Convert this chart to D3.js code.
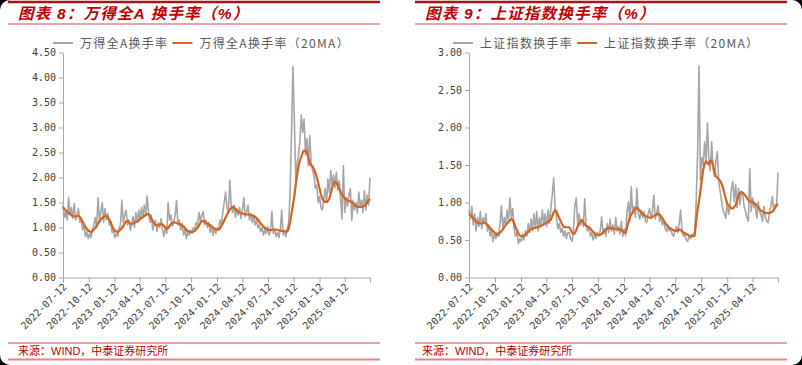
<!DOCTYPE html>
<html><head><meta charset="utf-8">
<script src="https://cdn.jsdelivr.net/npm/d3@7"></script>
<style>html,body{margin:0;padding:0;background:#000;} svg{display:block}</style>
</head><body><svg id="c" width="802" height="365"></svg>
<script>
// ---------- data ----------
const startDate = "2022-07-12";
const stepDays = 5;
const endDate = "2025-07-11";
const xTickLabels = ["2022-07-12","2022-10-12","2023-01-12","2023-04-12","2023-07-12","2023-10-12","2024-01-12","2024-04-12","2024-07-12","2024-10-12","2025-01-12","2025-04-12"];
const leftYTicks = [0,0.5,1,1.5,2,2.5,3,3.5,4,4.5];
const rightYTicks = [0,0.5,1,1.5,2,2.5,3];

const titles = ["图表 8：万得全A 换手率（%）", "图表 9：上证指数换手率（%）"];
const rawNames = ["万得全A换手率", "上证指数换手率"];
const maNames = ["万得全A换手率（20MA）", "上证指数换手率（20MA）"];
const sourceText = "来源：WIND，中泰证券研究所";

const leftRaw = [1.45,1.20,1.30,1.15,1.60,1.25,1.40,1.18,1.48,1.15,1.25,1.38,
1.10,1.15,0.95,1.05,0.82,0.92,0.78,0.88,0.80,
0.95,1.05,1.20,1.00,1.60,1.15,1.30,1.50,1.10,1.38,
1.15,1.28,1.05,1.12,0.90,0.95,0.80,0.88,0.82,0.98,
1.05,1.55,1.10,1.25,1.35,1.05,1.15,0.95,1.08,1.22,
1.00,1.30,1.10,1.35,1.15,1.40,1.20,1.45,1.25,1.63,1.30,
1.10,1.25,0.95,1.05,1.15,0.92,1.10,1.00,1.18,
0.95,0.82,1.00,0.88,1.50,1.15,1.25,1.02,1.10,1.25,
1.54,1.05,1.15,0.95,1.08,0.85,0.98,0.78,0.90,0.85,
0.95,0.88,1.00,0.95,1.10,1.05,1.30,1.12,1.25,1.32,
1.05,1.15,1.00,1.10,0.90,1.05,0.84,0.98,0.88,1.00,
0.95,1.15,1.05,1.30,1.50,1.71,1.40,1.30,1.94,1.45,
1.30,1.45,1.20,1.38,1.25,1.40,1.18,1.35,1.60,1.22,
1.30,1.45,1.15,1.28,1.10,1.25,1.05,1.15,1.00,1.05,
0.92,1.00,0.85,0.95,0.88,1.02,0.85,0.92,1.32,0.88,
0.95,0.82,0.90,0.80,0.96,1.35,0.85,0.92,0.82,0.98,
1.10,1.70,2.90,4.22,3.20,
1.95,2.30,2.45,2.75,3.25,2.90,3.17,2.45,2.78,2.24,2.84,2.30,2.15,2.04,1.78,1.85,1.50,1.62,1.40,1.35,
1.55,1.78,1.50,1.97,1.70,2.14,1.85,2.05,1.80,2.11,1.75,1.94,1.60,1.17,2.24,1.30,1.60,1.43,1.65,1.78,
1.14,1.55,1.35,1.50,1.29,1.71,1.40,1.55,1.30,1.74,1.35,1.65,1.45,1.99];

const leftMA = [1.41,1.37,1.34,1.31,1.29,1.27,1.25,1.23,1.22,1.22,
1.23,1.23,1.21,1.17,1.12,1.06,1.01,0.97,0.94,0.92,
0.91,0.93,0.96,0.99,1.03,1.08,1.12,1.16,1.19,1.21,
1.23,1.23,1.20,1.16,1.10,1.03,0.97,0.94,0.92,0.91,
0.93,0.96,0.99,1.03,1.08,1.12,1.13,1.11,1.08,1.07,
1.08,1.10,1.11,1.12,1.14,1.17,1.19,1.21,1.23,1.25,
1.27,1.27,1.23,1.18,1.13,1.08,1.05,1.04,1.05,1.06,
1.07,1.06,1.03,1.00,0.97,0.99,1.03,1.07,1.09,1.10,
1.10,1.09,1.08,1.07,1.06,1.04,1.02,0.99,0.95,0.93,
0.92,0.91,0.91,0.92,0.93,0.96,1.00,1.04,1.09,1.13,
1.13,1.11,1.09,1.08,1.06,1.04,1.02,1.00,0.98,0.96,
0.96,0.96,0.98,1.03,1.08,1.14,1.20,1.26,1.31,1.36,
1.39,1.41,1.40,1.37,1.34,1.32,1.30,1.29,1.28,1.27,
1.26,1.26,1.26,1.26,1.25,1.24,1.23,1.21,1.19,1.16,
1.12,1.08,1.05,1.02,0.99,0.97,0.96,0.95,0.95,0.95,
0.96,0.96,0.96,0.95,0.94,0.94,0.93,0.93,0.92,0.92,
0.92,0.98,1.10,1.28,1.45,1.62,1.85,2.05,2.22,2.34,
2.42,2.50,2.54,2.53,2.50,2.40,2.28,2.24,2.22,2.17,
2.10,2.00,1.90,1.78,1.66,1.58,1.53,1.51,1.51,1.53,
1.58,1.68,1.80,1.88,1.91,1.89,1.85,1.78,1.71,1.66,
1.62,1.59,1.56,1.54,1.53,1.52,1.51,1.48,1.45,1.43,
1.42,1.41,1.41,1.41,1.42,1.43,1.46,1.50,1.54,1.57];

const rightRaw = [0.90,0.78,0.95,0.70,0.85,0.62,0.80,0.68,0.88,
0.65,0.80,0.72,0.85,0.62,0.70,0.55,0.65,0.48,0.58,0.52,
0.60,0.55,0.72,0.96,0.65,0.80,0.70,0.90,0.75,1.06,
0.80,0.92,0.65,0.55,0.60,0.45,0.52,0.48,0.58,0.50,0.62,
0.55,0.72,0.60,0.78,0.62,0.85,0.65,0.88,0.62,0.80,
0.68,0.90,0.70,0.85,0.68,0.90,0.72,0.92,1.10,1.33,0.95,
0.80,0.65,0.72,0.60,0.66,0.55,0.62,0.52,0.60,
0.60,0.52,0.48,0.62,0.95,1.06,0.72,0.85,0.70,0.78,0.68,1.05,0.70,0.62,0.68,0.55,0.60,0.50,0.58,0.52,
0.60,0.55,0.62,0.81,0.58,0.65,0.55,0.72,0.60,0.78,
0.62,0.70,0.58,0.80,0.62,0.68,0.58,0.75,0.55,0.65,0.56,
0.88,1.01,0.75,1.21,0.85,0.95,0.80,1.19,0.85,0.78,0.90,0.80,0.88,0.75,0.73,0.85,0.92,0.78,0.88,1.10,
0.78,0.85,0.96,0.75,0.82,0.70,0.76,0.65,0.61,0.70,0.62,0.66,0.58,0.55,0.62,0.68,0.60,0.72,0.90,0.60,
0.55,0.58,0.50,0.48,0.55,0.52,0.58,0.55,0.62,
1.01,1.65,2.82,1.30,1.60,1.50,
1.81,1.55,2.06,1.55,1.42,1.81,1.45,1.35,1.55,1.68,1.28,1.15,1.02,0.90,0.85,0.79,1.01,0.84,0.95,1.19,
1.28,1.01,1.24,0.93,1.19,0.97,1.15,1.10,0.95,0.88,0.80,0.75,1.45,0.88,1.06,0.93,0.97,0.79,1.01,0.88,
0.84,0.75,0.95,0.80,0.75,0.73,0.88,0.95,1.08,0.88,0.97,0.95,1.40];

const rightMA = [0.85,0.83,0.81,0.79,0.77,0.75,0.73,0.72,0.72,0.72,
0.73,0.73,0.72,0.70,0.68,0.66,0.64,0.62,0.60,0.58,
0.57,0.58,0.60,0.62,0.64,0.67,0.70,0.72,0.74,0.76,
0.78,0.77,0.72,0.67,0.63,0.59,0.56,0.55,0.55,0.56,
0.57,0.59,0.61,0.63,0.65,0.65,0.66,0.66,0.67,0.67,
0.68,0.69,0.70,0.71,0.72,0.73,0.74,0.76,0.77,0.82,
0.87,0.90,0.88,0.83,0.79,0.75,0.71,0.68,0.67,0.67,
0.67,0.67,0.64,0.60,0.58,0.59,0.63,0.68,0.72,0.75,
0.76,0.74,0.71,0.69,0.68,0.67,0.65,0.63,0.61,0.59,
0.57,0.57,0.57,0.57,0.58,0.60,0.62,0.64,0.66,0.66,
0.66,0.65,0.65,0.65,0.65,0.65,0.64,0.64,0.63,0.62,
0.60,0.60,0.66,0.74,0.80,0.84,0.87,0.90,0.92,0.93,
0.91,0.89,0.87,0.85,0.83,0.82,0.81,0.80,0.80,0.80,
0.81,0.82,0.83,0.84,0.85,0.84,0.82,0.79,0.76,0.73,
0.70,0.68,0.66,0.65,0.64,0.63,0.62,0.62,0.63,0.64,
0.63,0.62,0.60,0.59,0.58,0.57,0.56,0.55,0.55,0.55,
0.56,0.75,0.90,1.02,1.15,1.30,1.44,1.51,1.55,1.52,
1.51,1.56,1.56,1.49,1.41,1.35,1.33,1.31,1.29,1.25,
1.20,1.12,1.05,0.99,0.96,0.94,0.92,0.92,0.94,0.97,
1.03,1.09,1.13,1.14,1.13,1.11,1.09,1.06,1.03,1.01,
1.01,1.01,0.99,0.98,0.96,0.93,0.91,0.89,0.88,0.87,
0.86,0.86,0.86,0.86,0.87,0.88,0.90,0.93,0.96,0.98];

// ---------- drawing ----------
const parse = d3.timeParse("%Y-%m-%d");
const t0 = parse(startDate), t1 = parse(endDate);
const datesFor = arr => arr.map((_, i) => d3.timeDay.offset(t0, stepDays * i));
const xTickDates = xTickLabels.map(parse);

const CJK = "'Noto Sans CJK SC','Noto Sans',sans-serif";
const MONO = "'DejaVu Sans Mono',monospace";
const RED = "#C00000";
const GRAY = "#A6A6A6";
const ORANGE = "#D5631D";

const svg = d3.select("#c");
svg.append("rect").attr("width", 802).attr("height", 365).attr("rx", 10).attr("fill", "#fff");

const layout = [
  {lx0: 8, lx1: 380, titleX: 18, plotL: 63, plotR: 370, legX: 53, srcX: 18},
  {lx0: 415, lx1: 787, titleX: 425, plotL: 469, plotR: 778, legX: 453, srcX: 422}
];
const plotTop = 52.5, plotBottom = 277.5;

const series = [
  {raw: leftRaw, ma: leftMA, yMax: 4.5, yTicks: leftYTicks},
  {raw: rightRaw, ma: rightMA, yMax: 3, yTicks: rightYTicks}
];

series.forEach((s, k) => {
  const L = layout[k];
  const g = svg.append("g");

  // header lines and title
  g.append("line").attr("x1", L.lx0).attr("x2", L.lx1).attr("y1", 2).attr("y2", 2)
    .attr("stroke", "#A8141A").attr("stroke-width", 2.5);
  g.append("line").attr("x1", L.lx0).attr("x2", L.lx1).attr("y1", 24).attr("y2", 24)
    .attr("stroke", "#E58287").attr("stroke-width", 1.5);
  g.append("text").attr("x", L.titleX).attr("y", 19)
    .attr("font-family", "'Liberation Sans'," + CJK).attr("font-size", 15.5)
    .attr("letter-spacing", 1.2)
    .attr("font-weight", "bold").attr("font-style", "italic").attr("fill", RED)
    .text(titles[k]);

  // footer
  g.append("line").attr("x1", L.lx0).attr("x2", L.lx1).attr("y1", 343).attr("y2", 343)
    .attr("stroke", "#D64848").attr("stroke-width", 1);
  g.append("line").attr("x1", L.lx0).attr("x2", L.lx1).attr("y1", 359.5).attr("y2", 359.5)
    .attr("stroke", "#E58287").attr("stroke-width", 2);
  g.append("text").attr("x", L.srcX).attr("y", 355)
    .attr("font-family", "'Liberation Sans'," + CJK).attr("font-size", 11).attr("fill", RED)
    .text(sourceText);

  // scales
  const x = d3.scaleTime().domain([t0, t1]).range([L.plotL, L.plotR]);
  const y = d3.scaleLinear().domain([0, s.yMax]).range([plotBottom, plotTop]);

  // axes
  const ya = g.append("g").attr("transform", `translate(${L.plotL},0)`)
    .call(d3.axisLeft(y).tickValues(s.yTicks).tickFormat(d3.format(".2f")).tickSize(4).tickSizeOuter(0).tickPadding(3));
  ya.select(".domain").attr("stroke", "#A6A6A6");
  ya.selectAll(".tick line").attr("stroke", "#A6A6A6");
  ya.selectAll("text").attr("font-family", MONO).attr("font-size", 10).attr("fill", "#404040");

  const xa = g.append("g").attr("transform", `translate(0,${plotBottom})`)
    .call(d3.axisBottom(x).tickValues(xTickDates).tickFormat((d, i) => xTickLabels[i]).tickSize(5).tickSizeOuter(5));
  xa.select(".domain").attr("stroke", "#A6A6A6");
  xa.selectAll(".tick line").attr("stroke", "#A6A6A6");
  xa.selectAll("text").attr("font-family", MONO).attr("font-size", 10).attr("fill", "#404040")
    .attr("text-anchor", "end").attr("dy", null).attr("y", 0)
    .attr("transform", "translate(4,10) rotate(-45)");

  // lines
  const line = d3.line().x(d => x(d[0])).y(d => y(d[1]));
  const rd = datesFor(s.raw), md = datesFor(s.ma);
  g.append("path").attr("d", line(s.raw.map((v, i) => [rd[i], v])))
    .attr("fill", "none").attr("stroke", GRAY).attr("stroke-width", 1.6).attr("stroke-linejoin", "round");
  g.append("path").attr("d", line(s.ma.map((v, i) => [md[i], v])))
    .attr("fill", "none").attr("stroke", ORANGE).attr("stroke-width", 2.2).attr("stroke-linejoin", "round");

  // legend
  const ly = 43;
  const lg = g.append("g");
  lg.append("line").attr("x1", L.legX).attr("x2", L.legX + 20).attr("y1", ly).attr("y2", ly)
    .attr("stroke", GRAY).attr("stroke-width", 2);
  const t1n = lg.append("text").attr("x", L.legX + 27).attr("y", ly + 4.5)
    .attr("font-family", CJK).attr("font-size", 12).attr("letter-spacing", 1.3)
    .attr("fill", "#595959").text(rawNames[k]);
  const w1 = t1n.node().getComputedTextLength();
  const ox = L.legX + 27 + w1 + 4;
  lg.append("line").attr("x1", ox).attr("x2", ox + 20).attr("y1", ly).attr("y2", ly)
    .attr("stroke", ORANGE).attr("stroke-width", 2);
  lg.append("text").attr("x", ox + 27).attr("y", ly + 4.5)
    .attr("font-family", CJK).attr("font-size", 12).attr("letter-spacing", 1.3)
    .attr("fill", "#595959").text(maNames[k]);
});
</script>
</body></html>
